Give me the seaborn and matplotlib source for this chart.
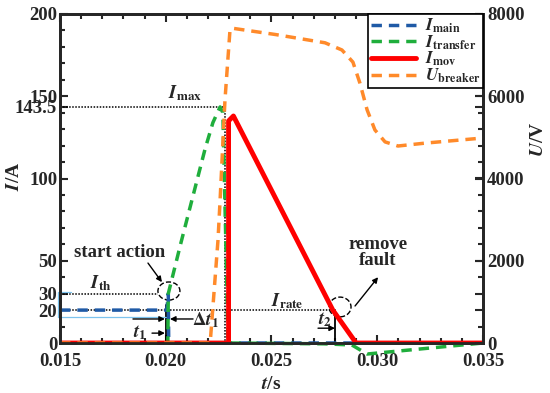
import matplotlib.pyplot as plt
import seaborn as sb
from matplotlib.patches import Ellipse
from matplotlib.ticker import MultipleLocator

# time axis / current values
t_main = [0.015, 0.02005, 0.02012, 0.02014, 0.035]
i_main = [20, 20, 30, 0, 0]

t_transfer = [0.015, 0.0201, 0.02012, 0.0207, 0.0213, 0.02186, 0.02223, 0.02257,
              0.0227, 0.02295, 0.0275, 0.0288, 0.02952, 0.035]
i_transfer = [0, 0, 30, 60, 90, 118, 134, 143.5, 140, 0, -0.5, -1.2, -6.7, 0]

t_mov = [0.015, 0.02297, 0.02297, 0.0232, 0.0279, 0.0290, 0.035]
i_mov = [0, 0, 135, 138, 20, 0, 0]

t_breaker = [0.015, 0.0221, 0.02247, 0.02257, 0.0228, 0.02304, 0.0232, 0.0252, 0.02753,
             0.02833, 0.02885, 0.02918, 0.02952, 0.02989, 0.03037, 0.03098, 0.03226, 0.035]
u_breaker = [0, 0, 2500, 3480, 5910, 7630, 7650, 7500, 7300,
             7125, 6830, 6320, 5670, 5180, 4890, 4790, 4860, 4985]

x_ticks = [0.015, 0.020, 0.025, 0.030, 0.035]
y_ticks = [0, 20, 30, 50, 100, 143.5, 150, 200]
y_ticklabels = ['0', '20', '30', '50', '100', '143.5', '150', '200']
u_ticks = [0, 2000, 4000, 6000, 8000]

# marker values used for annotations
I_MAX = 143.5
I_TH = 30
I_RATE = 20
T1 = 0.0200
T_PEAK = 0.02278
T2 = 0.0280

sb.set_style('ticks')
plt.rcParams['font.family'] = ['Liberation Serif', 'DejaVu Serif']
plt.rcParams['font.weight'] = 'bold'
plt.rcParams['axes.labelweight'] = 'bold'
plt.rcParams['mathtext.fontset'] = 'stix'

fig = plt.figure(figsize=(5.5, 3.93), dpi=100)
ax = fig.add_axes([60/550, 1-343/393, 423/550, 329/393])
ax2 = ax.twinx()

dash = (0, (3, 2))
sb.lineplot(x=t_main, y=i_main, ax=ax, color='#1f5aa6', linestyle=dash, lw=2.5, zorder=3,
            estimator=None, sort=False, label=r'$\mathbfit{I}_{\mathbf{main}}$', legend=False)
sb.lineplot(x=t_transfer, y=i_transfer, ax=ax, color='#1fae3c', linestyle=dash, lw=2.5, zorder=3,
            estimator=None, sort=False, label=r'$\mathbfit{I}_{\mathbf{transfer}}$',
            legend=False, clip_on=False)
sb.lineplot(x=t_mov, y=i_mov, ax=ax, color='#ff0000', lw=3.5, zorder=4,
            estimator=None, sort=False, label=r'$\mathbfit{I}_{\mathbf{mov}}$', legend=False)
sb.lineplot(x=t_breaker, y=u_breaker, ax=ax2, color='#ff8a2a', linestyle=dash, lw=2.5,
            estimator=None, sort=False, label=r'$\mathbfit{U}_{\mathbf{breaker}}$', legend=False)

ax.set_xlim(0.015, 0.035)
ax.set_ylim(0, 200)
ax2.set_ylim(0, 8000)
ax.set_xticks(x_ticks)
ax.set_xticklabels(['%.3f' % v for v in x_ticks])
ax.set_yticks(y_ticks)
ax.set_yticklabels(y_ticklabels)
ax.xaxis.set_minor_locator(MultipleLocator(0.001))
ax.yaxis.set_minor_locator(MultipleLocator(10))
ax2.set_yticks(u_ticks)
ax2.set_yticklabels([str(v) for v in u_ticks])

ax.tick_params(which='both', direction='in', top=True, right=True, labelsize=13.5, width=1.5)
ax.tick_params(which='major', length=6, pad=2)
ax.tick_params(which='minor', length=3.5)
ax.tick_params(axis='x', pad=7)
ax2.tick_params(direction='in', length=6, width=1.5, labelsize=13.5, pad=3)
for a in (ax, ax2):
    for s in a.spines.values():
        s.set_linewidth(2)

ax.set_xlabel(r'$\mathbfit{t}$/s', fontsize=14)
ax.set_ylabel(r'$\mathbfit{I}$/A', fontsize=14)
ax2.set_ylabel(r'$\mathbfit{U}$/V', fontsize=14)
ax.xaxis.set_label_coords(0.5, -0.1)
ax.yaxis.set_label_coords(-0.088, 0.507)
ax2.yaxis.set_label_coords(1.11, 0.62)

# reference lines
dot = dict(color='black', lw=1.1, linestyle=(0, (1, 1)), zorder=2)
ax.plot([0.015, T_PEAK], [I_MAX, I_MAX], **dot)
ax.plot([T_PEAK, T_PEAK], [I_MAX, 0], **dot)
ax.plot([0.015, 0.01963], [I_TH, I_TH], **dot)
ax.plot([0.015, T2], [I_RATE, I_RATE], **dot)
ax.plot([T1, T1], [23, 0], color='black', lw=1.3)
ax.plot([T2, T2], [I_RATE, 0], color='black', lw=1.3)

# stray light-blue selection box around 20/30 labels
ax.plot([0.0149, 0.0149, 0.0155], [15.8, 31, 31], color='#7cc3ee', lw=0.9, clip_on=False)
ax.plot([0.0149, 0.02001], [15.8, 15.8], color='#7cc3ee', lw=0.9, clip_on=False)

ax.add_patch(Ellipse((0.02015, 31.6), 0.00104, 11, fill=False, ec='black', lw=1, ls='--'))
ax.add_patch(Ellipse((0.02824, 21.9), 0.00104, 12, fill=False, ec='black', lw=1, ls='--'))

arr = dict(arrowstyle='-|>', color='black', lw=1, mutation_scale=8, shrinkA=0, shrinkB=0)
ax.annotate('', xy=(0.01982, 37), xytext=(0.01916, 48.6), arrowprops=arr)
ax.annotate('', xy=(0.03004, 40), xytext=(0.02895, 22.5), arrowprops=arr)
ax.annotate('', xy=(0.01996, 14.6), xytext=(0.01845, 14.6), arrowprops=arr)
ax.annotate('', xy=(0.0202, 14.6), xytext=(0.02129, 14.6), arrowprops=arr)
ax.annotate('', xy=(0.01996, 6), xytext=(0.01935, 6), arrowprops=arr)
ax.annotate('', xy=(0.0280, 9), xytext=(0.0272, 9), arrowprops=arr)

txt = dict(ha='center', va='center', fontsize=13.5, fontweight='bold')
ax.text(0.0209, 152, r'$\mathbfit{I}_{\mathbf{max}}$', **txt)
ax.text(0.01694, 36.5, r'$\mathbfit{I}_{\mathbf{th}}$', **txt)
ax.text(0.02573, 25.5, r'$\mathbfit{I}_{\mathbf{rate}}$', **txt)
ax.text(0.0178, 55.3, 'start action', **txt)
ax.text(0.03004, 55, 'remove\nfault', linespacing=0.95, **txt)
ax.text(0.01878, 6, r'$\mathbfit{t}_{\mathbf{1}}$', **txt)
ax.text(0.0219, 14, r'$\mathbf{\Delta}\mathbfit{t}_{\mathbf{1}}$', **txt)
ax.text(0.02755, 14, r'$\mathbfit{t}_{\mathbf{2}}$', **txt)

h1, l1 = ax.get_legend_handles_labels()
h2, l2 = ax2.get_legend_handles_labels()
leg = ax2.legend(h1 + h2, l1 + l2, loc='upper right', borderaxespad=0, fancybox=False,
                 edgecolor='black', framealpha=1, fontsize=12.5, handlelength=2.6,
                 labelspacing=-0.1, borderpad=0.15, handletextpad=0.5)
leg.get_frame().set_linewidth(1.2)

plt.savefig('out.png', dpi=100)
